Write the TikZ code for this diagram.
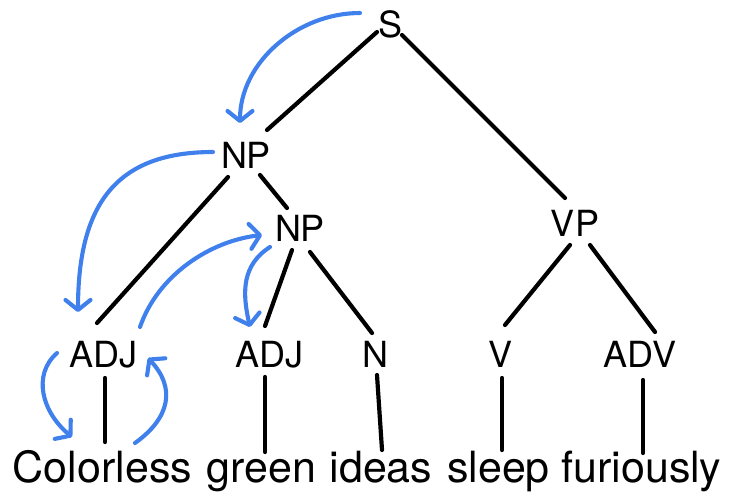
\documentclass[tikz,border=0pt]{standalone}
\usepackage{fontspec}
\setmainfont{TeX Gyre Heros}
\usetikzlibrary{arrows.meta}
\definecolor{moveblue}{RGB}{64,128,236}
\begin{document}
\begin{tikzpicture}[x=1pt,y=-1pt,
  cat/.style={inner sep=0pt, text height=25pt, text depth=0pt,
    font=\fontsize{36}{40}\selectfont},
  word/.style={inner sep=0pt, text height=30pt, text depth=0pt, anchor=base,
    font=\fontsize{43}{48}\selectfont},
  branch/.style={line width=4.2pt, line cap=round},
  move/.style={moveblue, line width=4.1pt, line cap=round,
    -{Straight Barb[round,length=10pt,width=25pt]}}]
\useasboundingbox (0,0) rectangle (730,491);
\fill[white] (0,0) rectangle (730,491);

% category labels
\node[cat] (S)    at (390,24.5)  {S};
\node[cat] (NP1)  at (246,155.5) {NP};
\node[cat] (NP2)  at (300,229)   {NP};
\node[cat] (VP)   at (575,224)   {VP};
\node[cat] (ADJ1) at (103.5,354.5) {ADJ};
\node[cat] (ADJ2) at (269.5,354.5) {ADJ};
\node[cat] (N)    at (375.5,354.5) {N};
\node[cat] (V)    at (500,354.5)   {V};
\node[cat] (ADV)  at (640,354.5)   {ADV};

% the sentence
\node[word] (w1) at (102.5,482) {Colorless};
\node[word] (w2) at (261.5,482) {green};
\node[word] (w3) at (381,482)   {ideas};
\node[word] (w4) at (498.5,482) {sleep};
\node[word] (w5) at (641.5,482) {furiously};

% tree branches
\draw[branch] ([shift={(-13,7.5)}]S.center) -- ([shift={(21,-25.5)}]NP1.center);
\draw[branch] ([shift={(12,10.5)}]S.center) -- ([shift={(-10,-26)}]VP.center);
\draw[branch] ([shift={(-18,21.5)}]NP1.center) -- ([shift={(-6.5,-31.5)}]ADJ1.center);
\draw[branch] ([shift={(14,19.5)}]NP1.center) -- ([shift={(-13,-21)}]NP2.center);
\draw[branch] ([shift={(-8,21)}]NP2.center) -- ([shift={(-4.5,-28.5)}]ADJ2.center);
\draw[branch] ([shift={(10,23)}]NP2.center) -- ([shift={(-3.5,-21.5)}]N.center);
\draw[branch] ([shift={(-5,21)}]VP.center) -- ([shift={(5,-29.5)}]V.center);
\draw[branch] ([shift={(15,21)}]VP.center) -- ([shift={(15,-22.5)}]ADV.center);

% leaves
\draw[branch] ([shift={(1.5,23.5)}]ADJ1.center) -- ([shift={(2.5,-25)}]w1.center);
\draw[branch] ([shift={(-4.5,22.5)}]ADJ2.center) -- ([shift={(3.5,-15)}]w2.center);
\draw[branch] ([shift={(1.5,20.5)}]N.center) -- ([shift={(1,-17)}]w3.center);
\draw[branch] ([shift={(2,23.5)}]V.center) -- ([shift={(3.5,-17)}]w4.center);
\draw[branch] ([shift={(3,25.5)}]ADV.center) -- ([shift={(1.5,-14)}]w5.center);

% movement arrows
\draw[move] ([shift={(-30,-11.5)}]S.center) .. controls +(-63,0) and +(0,-60) .. ([shift={(-6,-32.5)}]NP1.center);
\draw[move] ([shift={(-33,-3.5)}]NP1.center) .. controls +(-95,0) and +(0,-110) .. ([shift={(-25.5,-42.5)}]ADJ1.center);
\draw[move] ([shift={(36.5,-27.5)}]ADJ1.center) .. controls +(18,-52) and +(-52,6) .. ([shift={(-38,6)}]NP2.center);
\draw[move] ([shift={(-30,18)}]NP2.center) .. controls +(-28,18) and +(-8,-35) .. ([shift={(-19.5,-27.5)}]ADJ2.center);
\draw[move] ([shift={(-46.5,-1.5)}]ADJ1.center) .. controls +(-25,22) and +(-30,-25) .. ([shift={(-30.5,-30)}]w1.center);
\draw[move] ([shift={(32.5,-24)}]w1.center) .. controls +(35,-25) and +(28,30) .. ([shift={(44.5,3.5)}]ADJ1.center);
\end{tikzpicture}
\end{document}
